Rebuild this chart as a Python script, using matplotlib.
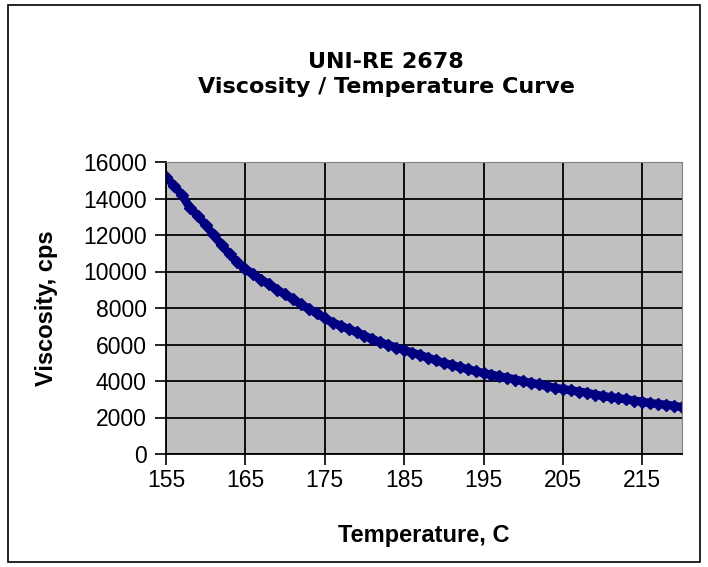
import numpy as np
import matplotlib.pyplot as plt
from matplotlib.patches import Rectangle

# temperature, C (one reading per degree)
temps = list(range(155, 221))
# viscosity, cps
visc = [15200, 14700, 14200, 13500, 13050, 12550, 12000, 11450, 10950, 10500,
        10150, 9850, 9550, 9300, 9000, 8750, 8500, 8200, 7950, 7700,
        7450, 7200, 7030, 6850, 6680, 6480, 6300, 6120, 5980, 5830,
        5700, 5560, 5420, 5280, 5130, 4990, 4880, 4760, 4650, 4540,
        4430, 4350, 4250, 4180, 4080, 3980, 3900, 3810, 3720, 3620,
        3560, 3490, 3420, 3360, 3260, 3180, 3110, 3060, 2990, 2920,
        2870, 2790, 2740, 2700, 2640, 2560]
xticks = [155, 165, 175, 185, 195, 205, 215]
yticks = list(range(0, 16001, 2000))

fig = plt.figure(figsize=(7.08, 5.67), dpi=100)
ax = fig.add_axes([166/708, 1 - 454/567, (682 - 166)/708, (454 - 162)/567])

# outer chart border
fig.patches.append(Rectangle((8/708, 5/567), 692/708, 557/567, transform=fig.transFigure,
                             fill=False, edgecolor='black', linewidth=1.2))

ax.set_facecolor('#c0c0c0')
ax.plot(temps, visc, '-', color='#000080', linewidth=6,
        marker='D', markersize=6, markeredgewidth=1)

ax.set_xlim(155, 220)
ax.set_ylim(0, 16000)
ax.set_xticks(xticks)
ax.set_yticks(yticks)
ax.grid(axis='both', color='black', linewidth=1.3)
ax.set_axisbelow(True)

for s in ['top', 'right']:
    ax.spines[s].set_color('#808080')
for s in ['left', 'bottom']:
    ax.spines[s].set_color('black')
    ax.spines[s].set_linewidth(1.3)

ax.tick_params(axis='both', direction='out', length=8, width=1.2, color='black',
               labelsize=16.5)
ax.tick_params(axis='x', pad=3)
ax.tick_params(axis='y', pad=6)
for lab in ax.get_xticklabels() + ax.get_yticklabels():
    lab.set_family('Liberation Sans')

ax.set_xlabel('Temperature, C', family='Liberation Sans', fontweight='bold',
              fontsize=17, labelpad=23)
ax.set_ylabel('Viscosity, cps', family='Liberation Sans', fontweight='bold',
              fontsize=17, labelpad=18)

fig.text(386/708, 1 - 62/567, 'UNI-RE 2678', ha='center', va='center',
         fontsize=16, fontweight='bold', family='DejaVu Sans')
fig.text(386/708, 1 - 87/567, 'Viscosity / Temperature Curve', ha='center', va='center',
         fontsize=16, fontweight='bold', family='DejaVu Sans')

fig.savefig('out.png', dpi=100)
